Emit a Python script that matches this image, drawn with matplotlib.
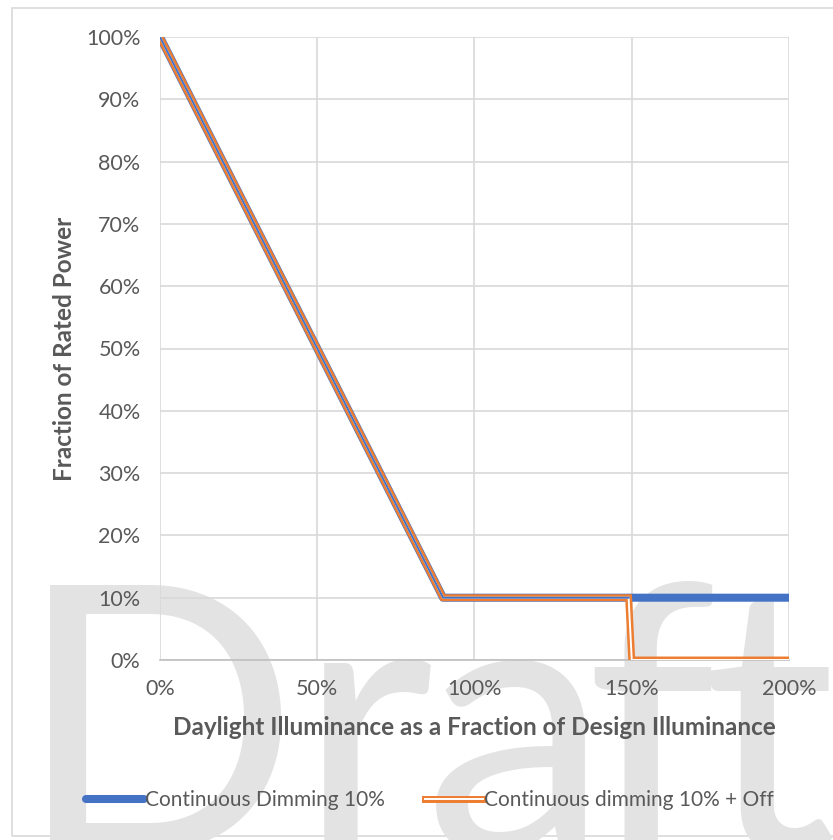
import matplotlib.pyplot as plt
import matplotlib.patheffects as pe
from matplotlib.patches import Rectangle
from matplotlib.ticker import PercentFormatter

plt.rcParams['font.family'] = ['Lato', 'DejaVu Sans']

# data
x_dim = [0.0, 0.9, 2.0]
y_dim = [1.0, 0.1, 0.1]
x_off = [0.0, 0.9, 1.49, 1.5, 2.0]
y_off = [1.0, 0.1, 0.1, 0.0, 0.0]
x_ticks = [0.0, 0.5, 1.0, 1.5, 2.0]
y_ticks = [0.0, 0.1, 0.2, 0.3, 0.4, 0.5, 0.6, 0.7, 0.8, 0.9, 1.0]

blue = '#4472c4'
orange = '#ed7d31'
txt = '#595959'
grid = '#d9d9d9'

W, H = 833, 840
fig = plt.figure(figsize=(W / 100, H / 100), dpi=100)
fig.patch.set_facecolor('white')

# outer chart border
fig.add_artist(Rectangle((12 / W, 4 / H), 1.2, 828 / H, transform=fig.transFigure,
                         fill=False, edgecolor=grid, lw=1.2, zorder=-2))

# watermark, letter by letter (Lato is wider than the original font)
for ch, cx in zip('Draft', [158, 366, 516, 650, 770]):
    fig.text(cx / W, -12 / H, ch, fontsize=268, color='#e3e3e3', ha='center',
             va='baseline', zorder=-1, family='Lato')

ax = fig.add_axes([160 / W, 1 - 660 / H, 629 / W, 623 / H])
ax.set_facecolor('none')

ax.plot(x_dim, y_dim, color=blue, lw=5.8, solid_capstyle='round', zorder=3,
        label='Continuous Dimming 10%')
ax.plot(x_off, y_off, color='white', lw=1.4, solid_joinstyle='miter', zorder=4,
        path_effects=[pe.Stroke(linewidth=5.0, foreground=orange), pe.Normal()],
        label='Continuous dimming 10% + Off')
# inside of the hollow line where it runs over the blue one
ax.plot(x_off[:3], y_off[:3], color=blue, lw=1.4, zorder=5)

ax.set_xlim(0, 2)
ax.set_ylim(0, 1)
ax.set_xticks(x_ticks)
ax.set_yticks(y_ticks)
ax.xaxis.set_major_formatter(PercentFormatter(1.0, decimals=0))
ax.yaxis.set_major_formatter(PercentFormatter(1.0, decimals=0))
ax.grid(True, color=grid, lw=1.2)
ax.set_axisbelow(True)
for s in ['top', 'right', 'left']:
    ax.spines[s].set_visible(False)
ax.spines['bottom'].set_color('#bfbfbf')
ax.spines['bottom'].set_linewidth(1.2)
ax.tick_params(length=0, labelsize=15.5, labelcolor=txt)
ax.tick_params(axis='x', pad=14)
ax.tick_params(axis='y', pad=14)

ax.set_xlabel('Daylight Illuminance as a Fraction of Design Illuminance', fontsize=17.5,
              fontweight='bold', color=txt, labelpad=12)
ax.set_ylabel('Fraction of Rated Power', fontsize=17.5, fontweight='bold', color=txt,
              labelpad=7)

h, l = ax.get_legend_handles_labels()
fig.legend(h, l, loc='center', bbox_to_anchor=(0.516, 1 - 800 / H), ncol=2, frameon=False,
           fontsize=15, labelcolor=txt, handlelength=2.8, handletextpad=0.05,
           columnspacing=1.9)

fig.savefig('out.png', dpi=100)
